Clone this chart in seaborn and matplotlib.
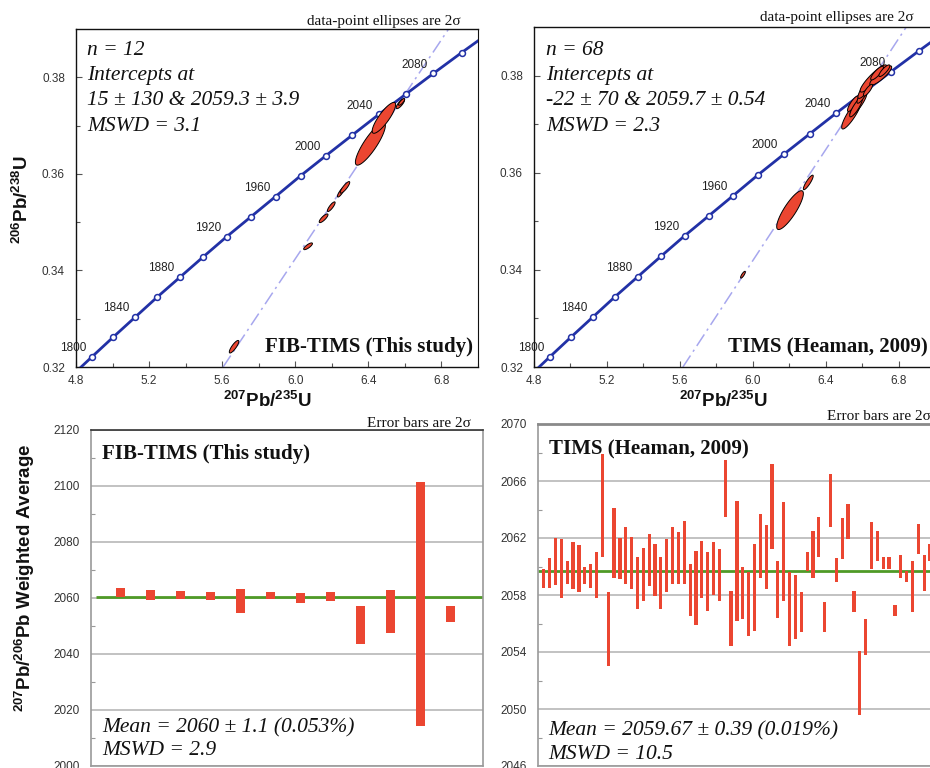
import numpy as np
import matplotlib
matplotlib.use('Agg')
import matplotlib.pyplot as plt
import seaborn as sns
from matplotlib.ticker import FixedLocator, FormatStrFormatter

# ---- concordia (ages in Ma and their 207Pb/235U, 206Pb/238U ratios)
conc_age = [1780, 1800, 1820, 1840, 1860, 1880, 1900, 1920, 1940, 1960,
            1980, 2000, 2020, 2040, 2060, 2080, 2100, 2120]
conc_x = [4.772, 4.887, 5.004, 5.123, 5.245, 5.369, 5.496, 5.625, 5.757, 5.892,
          6.029, 6.169, 6.311, 6.457, 6.605, 6.756, 6.910, 7.068]
conc_y = [0.3180, 0.3221, 0.3262, 0.3303, 0.3345, 0.3386, 0.3428, 0.3470, 0.3511, 0.3553,
          0.3596, 0.3638, 0.3680, 0.3723, 0.3765, 0.3808, 0.3851, 0.3894]
label_ages = [1800, 1840, 1880, 1920, 1960, 2000, 2040, 2080]

# discordia lines (ends at the plot edges)
disc_fib_x = [5.605, 6.839]
disc_fib_y = [0.320, 0.390]
disc_tims_x = [5.616, 6.840]
disc_tims_y = [0.320, 0.390]

# FIB-TIMS ellipses: centre, half extents, correlation
fib_ex = [5.665, 6.070, 6.155, 6.197, 6.250, 6.272, 6.411, 6.485, 6.575, 6.582]
fib_ey = [0.3242, 0.3450, 0.3508, 0.3532, 0.3562, 0.3572, 0.3662, 0.3716, 0.3745, 0.3749]
fib_sx = [0.026, 0.024, 0.024, 0.021, 0.019, 0.026, 0.082, 0.064, 0.023, 0.017]
fib_sy = [0.0013, 0.0007, 0.0009, 0.0010, 0.0010, 0.0012, 0.0044, 0.0032, 0.0010, 0.0007]
fib_rho = [0.84, 0.80, 0.82, 0.84, 0.84, 0.86, 0.86, 0.85, 0.80, 0.80]

# TIMS (Heaman 2009) ellipses
tims_ex = [5.945, 6.203, 6.303, 6.541, 6.578, 6.548, 6.565, 6.600, 6.620,
           6.647, 6.660, 6.700, 6.680, 6.720, 6.630]
tims_ey = [0.3390, 0.3523, 0.3580, 0.3721, 0.3742, 0.3742, 0.3735, 0.3760, 0.3775,
           0.3788, 0.3794, 0.3800, 0.3805, 0.3810, 0.3770]
tims_sx = [0.013, 0.073, 0.027, 0.055, 0.046, 0.030, 0.035, 0.030, 0.045,
           0.040, 0.073, 0.060, 0.035, 0.030, 0.025]
tims_sy = [0.0007, 0.0040, 0.0015, 0.0031, 0.0024, 0.0016, 0.0020, 0.0017, 0.0022,
           0.0016, 0.0028, 0.0020, 0.0014, 0.0012, 0.0012]
tims_rho = [0.82, 0.85, 0.88, 0.88, 0.87, 0.84, 0.86, 0.84, 0.86,
            0.84, 0.90, 0.87, 0.84, 0.84, 0.84]

# 207Pb/206Pb ages, 2 sigma bar ends
fib_top = [2063.6, 2063.0, 2062.6, 2062.0, 2063.2, 2062.0, 2061.8, 2062.3, 2057.3, 2062.7, 2101.6, 2057.3]
fib_bot = [2060.4, 2059.4, 2059.8, 2059.4, 2054.7, 2059.8, 2058.2, 2058.8, 2043.4, 2047.5, 2014.3, 2051.3]
fib_mean = 2060.5

tims_top = [2059.8, 2060.6, 2062.0, 2061.9, 2060.4, 2061.7, 2061.5, 2060.0, 2060.2, 2061.0,
            2067.9, 2058.2, 2064.1, 2062.0, 2062.8, 2062.1, 2060.7, 2061.3, 2062.3, 2061.6,
            2060.7, 2061.9, 2062.8, 2062.4, 2063.2, 2060.2, 2061.1, 2061.8, 2061.0, 2061.7,
            2061.2, 2067.5, 2058.3, 2064.6, 2060.0, 2059.6, 2061.6, 2063.7, 2062.9, 2067.2,
            2060.4, 2064.5, 2059.6, 2059.4, 2058.2, 2061.0, 2062.5, 2063.5, 2057.5, 2066.5,
            2060.6, 2063.4, 2064.4, 2058.3, 2054.1, 2056.3, 2063.1, 2062.5, 2060.7, 2060.7,
            2057.3, 2060.8, 2059.7, 2060.4, 2063.0, 2060.8, 2061.6]
tims_bot = [2058.5, 2058.5, 2058.7, 2057.8, 2058.8, 2058.4, 2058.2, 2058.8, 2058.5, 2057.8,
            2060.7, 2053.0, 2059.2, 2059.1, 2058.8, 2058.4, 2057.0, 2057.6, 2058.6, 2057.9,
            2057.0, 2058.2, 2058.8, 2058.8, 2058.8, 2056.5, 2055.9, 2057.8, 2056.9, 2058.0,
            2057.6, 2063.5, 2054.4, 2056.2, 2056.3, 2055.1, 2055.5, 2059.2, 2058.4, 2061.2,
            2056.4, 2057.6, 2054.4, 2054.9, 2055.4, 2059.7, 2059.2, 2060.7, 2055.4, 2062.8,
            2058.9, 2060.5, 2061.9, 2056.8, 2049.6, 2053.8, 2059.8, 2060.4, 2059.8, 2059.8,
            2056.5, 2059.2, 2058.9, 2056.8, 2060.9, 2058.3, 2060.4]
tims_mean = 2059.67

RED = '#EB4631'
BLUE = '#2231A6'
LAV = '#A7A7EE'
GREEN = '#4F9A27'
TICKC = '#333333'

sns.set_style('ticks')
plt.rcParams['font.family'] = ['Liberation Sans', 'DejaVu Sans']
plt.rcParams['mathtext.fontset'] = 'custom'
plt.rcParams['mathtext.bf'] = 'Liberation Sans:bold'
plt.rcParams['mathtext.default'] = 'bf'

W, H = 930, 768
fig = plt.figure(figsize=(W / 100, H / 100), dpi=100)


def px_axes(l, t, r, b):
    return fig.add_axes([l / W, 1 - b / H, (r - l) / W, (b - t) / H])


def ftext(x, y, s, **kw):
    fig.text(x / W, 1 - y / H, s, **kw)


def ellipses(ax, xs, ys, sxs, sys_, rhos):
    t = np.linspace(0, 2 * np.pi, 90)
    for x0, y0, sx, sy, r in zip(xs, ys, sxs, sys_, rhos):
        ex = x0 + sx * np.cos(t)
        ey = y0 + sy * (r * np.cos(t) + np.sqrt(1 - r * r) * np.sin(t))
        ax.fill(ex, ey, facecolor=RED, edgecolor='black', lw=0.7, zorder=5)


def concordia_panel(ax, dx, dy, exs, eys, esx, esy, erho, right_spine):
    sns.lineplot(x=conc_x, y=conc_y, ax=ax, color=BLUE, lw=2, sort=False, zorder=3)
    mx = conc_x[1:-1]
    my = conc_y[1:-1]
    sns.scatterplot(x=mx, y=my, ax=ax, marker='o', s=18, facecolor='white',
                    edgecolor=BLUE, linewidth=1.1, zorder=4)
    for a, x, y in zip(conc_age, conc_x, conc_y):
        if a in label_ages:
            ax.annotate(str(a), (x, y), xytext=(-4, 2), textcoords='offset points',
                        ha='right', va='bottom', fontsize=8.5, color='#222222', zorder=3)
    sns.lineplot(x=dx, y=dy, ax=ax, color=LAV, lw=1.1, linestyle=(0, (9, 3, 1.5, 3)),
                 sort=False, zorder=2)
    ellipses(ax, exs, eys, esx, esy, erho)
    ax.set_ylim(0.32, 0.39)
    ax.xaxis.set_major_locator(FixedLocator([4.8, 5.2, 5.6, 6.0, 6.4, 6.8]))
    ax.xaxis.set_minor_locator(FixedLocator([5.0, 5.4, 5.8, 6.2, 6.6, 7.0]))
    ax.yaxis.set_major_locator(FixedLocator([0.32, 0.34, 0.36, 0.38]))
    ax.yaxis.set_minor_locator(FixedLocator([0.33, 0.35, 0.37]))
    ax.xaxis.set_major_formatter(FormatStrFormatter('%.1f'))
    ax.yaxis.set_major_formatter(FormatStrFormatter('%.2f'))
    ax.tick_params(which='both', direction='in', labelsize=8.5, labelcolor=TICKC,
                   width=0.8, color='#555555')
    ax.tick_params(which='major', length=4)
    ax.tick_params(which='minor', length=3)
    ax.tick_params(axis='y', pad=8)
    ax.tick_params(axis='x', pad=6)
    ax.set_xlabel('')
    ax.set_ylabel('')
    for s in ['left', 'top', 'bottom']:
        ax.spines[s].set_color('#111111')
        ax.spines[s].set_linewidth(1.0)
    ax.spines['right'].set_visible(right_spine)
    ax.spines['right'].set_color('#111111')


# ---------------- top left
ax1 = px_axes(76, 29, 478, 367)
concordia_panel(ax1, disc_fib_x, disc_fib_y, fib_ex, fib_ey, fib_sx, fib_sy, fib_rho, True)
ax1.set_xlim(4.8, 7.0)

# ---------------- top right
ax2 = px_axes(534, 27, 930, 367)
concordia_panel(ax2, disc_tims_x, disc_tims_y, tims_ex, tims_ey, tims_sx, tims_sy, tims_rho, False)
ax2.set_xlim(4.8, 6.97)


def bar_panel(ax, top, bot, width, mean, mean_start, ylim, major, minor, xmax, right_spine):
    xs = np.arange(1, len(top) + 1)
    hts = np.array(top) - np.array(bot)
    ax.bar(xs, hts, bottom=bot, width=width, color=RED, edgecolor='none', zorder=3)
    ax.hlines(mean, mean_start, xmax, color=GREEN, lw=2, zorder=2)
    ax.set_xlim(0, xmax)
    ax.set_ylim(*ylim)
    ax.yaxis.set_major_locator(FixedLocator(major))
    ax.yaxis.set_minor_locator(FixedLocator(minor))
    ax.yaxis.set_major_formatter(FormatStrFormatter('%d'))
    ax.set_xticks([])
    ax.grid(axis='y', which='major', color='#B8B8B8', lw=1.2, zorder=0)
    ax.tick_params(which='both', direction='in', labelsize=8.5, labelcolor=TICKC,
                   color='#999999', width=0.8, pad=8)
    ax.tick_params(which='major', length=0)
    ax.tick_params(which='minor', length=3)
    for s in ['left', 'bottom']:
        ax.spines[s].set_color('#9A9A9A')
        ax.spines[s].set_linewidth(1.2)
    ax.spines['right'].set_visible(right_spine)
    ax.spines['right'].set_color('#9A9A9A')
    ax.spines['right'].set_linewidth(1.2)


# ---------------- bottom left
ax3 = px_axes(91, 430, 483, 766)
bar_panel(ax3, fib_top, fib_bot, 0.3, fib_mean, 0.17, (2000, 2120),
          [2000, 2020, 2040, 2060, 2080, 2100, 2120],
          [2010, 2030, 2050, 2070, 2090, 2110], 13.07, True)
ax3.spines['top'].set_color('#333333')
ax3.spines['top'].set_linewidth(1.2)

# ---------------- bottom right
ax4 = px_axes(538, 424, 930, 766)
bar_panel(ax4, tims_top, tims_bot, 0.55, tims_mean, 0.0, (2046, 2070),
          [2046, 2050, 2054, 2058, 2062, 2066, 2070],
          [2048, 2052, 2056, 2060, 2064, 2068], 67.0, False)
ax4.spines['top'].set_color('#8A8A8A')
ax4.spines['top'].set_linewidth(2)

# ---------------- texts
serif = ['Liberation Serif', 'DejaVu Serif']
it = dict(family=serif, style='italic', fontsize=15.5, color='#111111', va='baseline')
for y, s in zip([55, 80, 105, 131], ['n = 12', 'Intercepts at',
                                     '15 \u00b1 130 & 2059.3 \u00b1 3.9', 'MSWD = 3.1']):
    ftext(87, y, s, **it)
for y, s in zip([55, 80, 105, 131], ['n = 68', 'Intercepts at',
                                     '-22 \u00b1 70 & 2059.7 \u00b1 0.54', 'MSWD = 2.3']):
    ftext(546, y, s, **it)

bold = dict(family=serif, weight='bold', fontsize=15, color='#111111', va='baseline')
ftext(473, 352, 'FIB-TIMS (This study)', ha='right', **bold)
ftext(728, 352, 'TIMS (Heaman, 2009)', ha='left', **bold)
ftext(102, 459, 'FIB-TIMS (This study)', ha='left', **bold)
ftext(549, 454, 'TIMS (Heaman, 2009)', ha='left', **bold)

ftext(102, 732, 'Mean = 2060 \u00b1 1.1 (0.053%)', **it)
ftext(102, 755, 'MSWD = 2.9', **it)
ftext(548, 735, 'Mean = 2059.67 \u00b1 0.39 (0.019%)', **it)
ftext(548, 759, 'MSWD = 10.5', **it)

note = dict(family=serif, fontsize=11, color='#111111', va='baseline', ha='left')
ftext(307, 25, 'data-point ellipses are 2\u03c3', **note)
ftext(760, 21, 'data-point ellipses are 2\u03c3', **note)
ftext(367, 427, 'Error bars are 2\u03c3', **note)
ftext(827, 420, 'Error bars are 2\u03c3', **note)

lab = dict(fontsize=13.5, weight='bold', color='#111111', ha='center', va='center')
ftext(22, 200, r'$^{206}$Pb/$^{238}$U', rotation=90, **lab)
ftext(267, 401, r'$^{207}$Pb/$^{235}$U', **lab)
ftext(723, 401, r'$^{207}$Pb/$^{235}$U', **lab)
ftext(25, 578, r'$^{207}$Pb/$^{206}$Pb Weighted Average', rotation=90, **lab)

fig.savefig('out.png', dpi=100)
